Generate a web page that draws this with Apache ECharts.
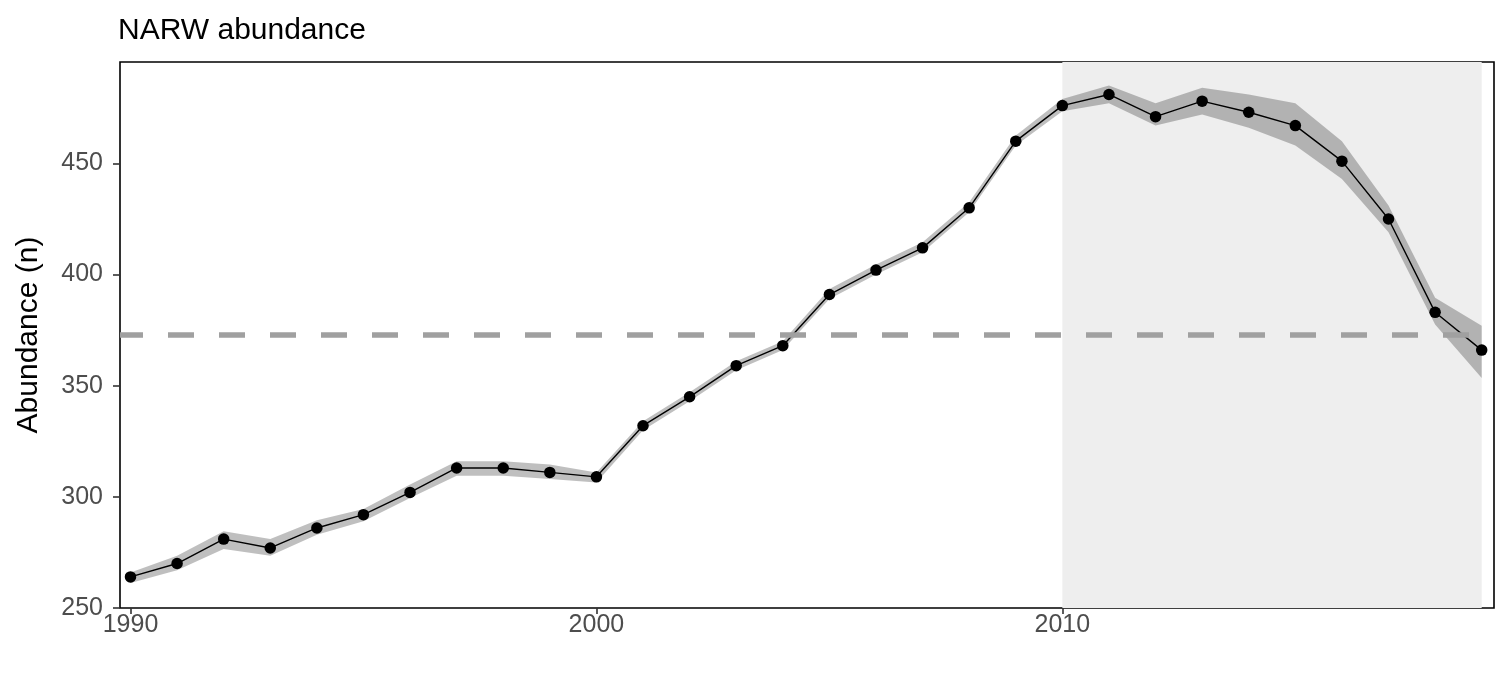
<!DOCTYPE html>
<html>
<head>
<meta charset="utf-8">
<script src="https://cdn.jsdelivr.net/npm/echarts@6/dist/echarts.min.js"></script>
<style>
  html, body { margin: 0; padding: 0; background: #fff; }
  #chart { width: 1512px; height: 680px; }
</style>
</head>
<body>
<div id="chart"></div>
<script>
const years = [1990,1991,1992,1993,1994,1995,1996,1997,1998,1999,2000,2001,2002,2003,2004,2005,2006,2007,2008,2009,2010,2011,2012,2013,2014,2015,2016,2017,2018,2019];
const abundance = [264,270,281,277,286,292,302,313,313,311,309,332,345,359,368,391,402,412,430,460,476,481,471,478,473,467,451,425,383,366];
const lower = [261.3,267,276.5,273.5,283,289,299.5,309.5,309.5,308,306.5,330,343,357,366,389,400,410,428,458,473.5,477,467,472,466,458,443,419,377.5,353.5];
const upper = [266,273.5,284.5,281,289.5,294.5,305.5,316,316,314.5,311,334,347,361,370,393.5,404.5,414.5,432.5,462.5,479,485,477,484,481,477,460,431,389.5,377];
const referenceLevel = 373;
const shadedPeriod = [2010, 2019];
const xTicks = [1990, 2000, 2010];
const yTicks = [250, 300, 350, 400, 450];
const titleText = 'NARW abundance';
const yTitle = 'Abundance (n)';

const FONT = 'Liberation Sans, Arial, sans-serif';
const chart = echarts.init(document.getElementById('chart'), null, { renderer: 'canvas' });

const ribbonData = years.map((y, i) => [y, lower[i], upper[i]]);
const mainData = years.map((y, i) => [y, abundance[i]]);

function renderRibbon(params, api) {
  if (params.dataIndex !== 0) return null;
  const top = [], bottom = [];
  for (let i = 0; i < ribbonData.length; i++) {
    top.push(api.coord([ribbonData[i][0], ribbonData[i][2]]));
    bottom.push(api.coord([ribbonData[i][0], ribbonData[i][1]]));
  }
  const points = top.concat(bottom.reverse());
  return {
    type: 'polygon',
    shape: { points: points },
    style: { fill: 'rgba(0,0,0,0.25)', stroke: null }
  };
}

chart.setOption({
  animation: false,
  backgroundColor: '#ffffff',
  title: {
    text: titleText,
    left: 118,
    top: 16,
    padding: 0,
    textStyle: { fontFamily: FONT, fontSize: 30, fontWeight: 'normal', color: '#000' }
  },
  grid: {
    left: 120, right: 18, top: 62, bottom: 72,
    show: true, borderColor: '#000', borderWidth: 1.6, backgroundColor: 'transparent'
  },
  xAxis: {
    type: 'value',
    min: 1989.775,
    max: 2019.264,
    axisLine: { show: false },
    splitLine: { show: false },
    axisTick: { show: true, length: 6, lineStyle: { color: '#333', width: 1.6 }, customValues: xTicks },
    axisLabel: { customValues: xTicks, margin: 5, fontFamily: FONT, fontSize: 25, color: '#4D4D4D', formatter: v => String(v) }
  },
  yAxis: {
    type: 'value',
    min: 250,
    max: 495.6,
    name: yTitle,
    nameLocation: 'middle',
    nameGap: 76,
    nameTextStyle: { fontFamily: FONT, fontSize: 30, color: '#000' },
    axisLine: { show: false },
    splitLine: { show: false },
    axisTick: { show: true, length: 7, lineStyle: { color: '#333', width: 1.6 }, customValues: yTicks },
    axisLabel: { customValues: yTicks, margin: 17, fontFamily: FONT, fontSize: 25, color: '#4D4D4D', formatter: v => String(v) }
  },
  series: [
    {
      name: 'reference',
      type: 'line',
      data: [],
      symbol: 'none',
      silent: true,
      z: 1,
      markArea: {
        silent: true,
        itemStyle: { color: '#EEEEEE' },
        data: [[{ xAxis: shadedPeriod[0] }, { xAxis: shadedPeriod[1] }]]
      },
      markLine: {
        silent: true,
        symbol: 'none',
        label: { show: false },
        lineStyle: { color: '#A0A0A0', width: 5.5, type: [26, 25], dashOffset: 3 },
        data: [{ yAxis: referenceLevel }]
      }
    },
    {
      name: 'ribbon',
      type: 'custom',
      data: ribbonData,
      encode: { x: 0, y: [1, 2] },
      renderItem: renderRibbon,
      silent: true,
      clip: true,
      z: 2
    },
    {
      name: 'abundance',
      type: 'line',
      data: mainData,
      symbol: 'circle',
      symbolSize: 11.5,
      showSymbol: true,
      itemStyle: { color: '#000' },
      lineStyle: { color: '#000', width: 1.4 },
      silent: true,
      z: 3
    }
  ]
});
</script>
</body>
</html>
